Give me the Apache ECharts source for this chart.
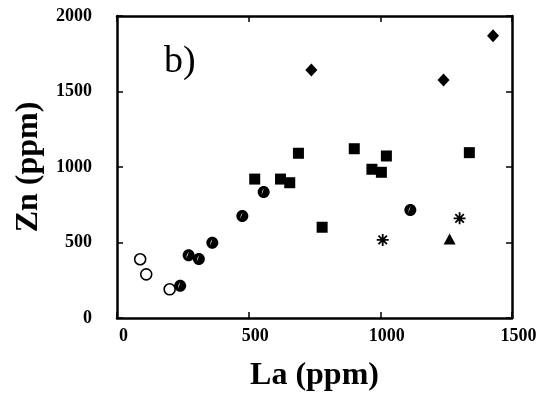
<!DOCTYPE html>
<html><head><meta charset="utf-8">
<script src="https://cdn.jsdelivr.net/npm/echarts@6/dist/echarts.min.js"></script>
<style>html,body{margin:0;padding:0;background:#fff}#c{width:549px;height:402px}</style>
</head><body><div id="c"></div>
<script>
// Data (La ppm, Zn ppm)
var openCircles = [[88,389],[111,289],[200,190]];
var halfCircles = [[240,214],[272,415],[311,391],[362,499],[476,675],[557,834],[1114,715]];
var squares = [[523,920],[689,1091],[621,920],[656,896],[779,601],[901,1121],[968,985],[1004,965],[1023,1073],[1338,1095]];
var diamonds = [[738,1642],[1240,1576],[1428,1870]];
var asterisks = [[1009,517],[1301,660]];
var triangles = [[1263,523]];
var xTicks = [0,500,1000,1500];
var yTicks = [0,500,1000,1500,2000];
var panelLabel = 'b)';
var xName = 'La (ppm)';
var yName = 'Zn (ppm)';

var halfPath = 'path://M10 0 C15.523 0 20 4.477 20 10 C20 15.523 15.523 20 10 20 C4.477 20 0 15.523 0 10 C0 4.477 4.477 0 10 0 Z M10.5 3.5 Q6.5 8 6.2 15 Q8.8 9 10.5 3.5 Z';
var starPath = 'path://M0 8.5 L20 8.5 L20 11.5 L0 11.5 Z M8.5 0 L11.5 0 L11.5 20 L8.5 20 Z M3.99 1.87 L18.13 16.01 L16.01 18.13 L1.87 3.99 Z M16.01 1.87 L18.13 3.99 L3.99 18.13 L1.87 16.01 Z';

var font = '"Liberation Serif","Times New Roman",serif';
var chart = echarts.init(document.getElementById('c'), null, {renderer:'canvas'});
function tickAxis(extra){ return Object.assign({
  type:'value', splitLine:{show:false},
  axisLine:{show:true,onZero:false,lineStyle:{color:'#000',width:2.5}},
  axisTick:{show:true,inside:true,length:6,lineStyle:{color:'#000',width:1.5}}
}, extra); }
var dark = {color:'#000',opacity:1};
chart.setOption({
  animation:false,
  backgroundColor:'#fff',
  grid:{left:117,right:37,top:16,bottom:84},
  xAxis:[
    tickAxis({position:'bottom',min:0,max:1500,interval:500,
      axisLabel:{show:true,color:'#000',fontFamily:font,fontWeight:'bold',fontSize:18,margin:9,padding:[0,0,0,13],
        formatter:function(v){return xTicks.indexOf(v)>=0?String(v):'';}},
      name:xName,nameLocation:'middle',nameGap:42,
      nameTextStyle:{color:'#000',fontFamily:font,fontWeight:'bold',fontSize:32}}),
    tickAxis({position:'top',min:0,max:1500,interval:500,axisLabel:{show:false}})
  ],
  yAxis:[
    tickAxis({position:'left',min:0,max:2000,interval:500,
      axisLabel:{show:true,color:'#000',fontFamily:font,fontWeight:'bold',fontSize:18,margin:25,
        formatter:function(v){return yTicks.indexOf(v)>=0?String(v):'';}},
      name:yName,nameLocation:'middle',nameGap:70,nameRotate:90,
      nameTextStyle:{color:'#000',fontFamily:font,fontWeight:'bold',fontSize:32}}),
    tickAxis({position:'right',min:0,max:2000,interval:500,axisLabel:{show:false}})
  ],
  graphic:[{type:'text',left:164,top:43,style:{text:panelLabel,fill:'#000',font:'38px '+font}}],
  series:[
    {type:'scatter',data:openCircles,symbol:'circle',symbolSize:11,
      itemStyle:{color:'#fff',borderColor:'#000',borderWidth:1.6,opacity:1}},
    {type:'scatter',data:halfCircles,symbol:halfPath,symbolSize:12,itemStyle:dark},
    {type:'scatter',data:squares,symbol:'rect',symbolSize:11,itemStyle:dark},
    {type:'scatter',data:diamonds,symbol:'diamond',symbolSize:[12,13],itemStyle:dark},
    {type:'scatter',data:asterisks,symbol:starPath,symbolSize:12,itemStyle:dark},
    {type:'scatter',data:triangles,symbol:'triangle',symbolSize:[12,11],itemStyle:dark}
  ]
});
</script></body></html>
